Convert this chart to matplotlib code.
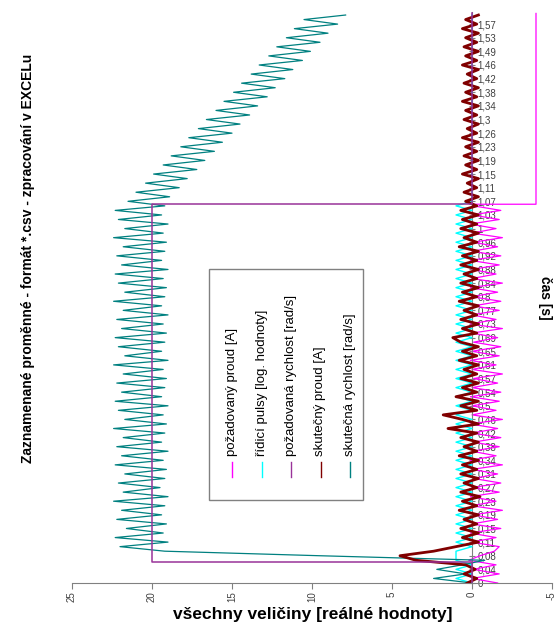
import numpy as np
import matplotlib
matplotlib.use("Agg")
import matplotlib.pyplot as plt
from matplotlib.lines import Line2D
from matplotlib.patches import Rectangle

# time axis: samples every third of a label step (labels every 1.57/41 s)
sample_dt = 1.57 / 123
time_labels = ["0", "0,04", "0,08", "0,11", "0,15", "0,19", "0,23", "0,27", "0,31", "0,34",
               "0,38", "0,42", "0,46", "0,5", "0,54", "0,57", "0,61", "0,65", "0,69", "0,73",
               "0,77", "0,8", "0,84", "0,88", "0,92", "0,96", "1", "1,03", "1,07", "1,11",
               "1,15", "1,19", "1,23", "1,26", "1,3", "1,34", "1,38", "1,42", "1,46", "1,49",
               "1,53", "1,57"]

# skutečná rychlost [rad/s]
speed_real = [
    0.0, 2.4, 0.4, 2.2, 0.6,
    -0.8, 9.5, 19.2,
    22.0, 19.0, 22.3, 19.3, 21.6, 19.1, 22.2, 19.4, 21.9, 19.2,
    22.4, 19.0, 21.8, 19.5, 22.1, 19.2, 21.7, 19.1, 22.3, 19.3,
    21.9, 19.0, 22.2, 19.4, 21.8, 19.2, 22.4, 19.1, 21.7, 19.3,
    22.1, 19.0, 22.3, 19.4, 21.9, 19.2, 22.2, 19.1, 21.8, 19.3,
    22.4, 19.0, 21.7, 19.4, 22.1, 19.2, 22.3, 19.1, 21.9, 19.3,
    22.2, 19.0, 21.8, 19.4, 22.4, 19.2, 21.7, 19.1, 22.1, 19.3,
    22.3, 19.0, 21.9, 19.4, 22.2, 19.2, 21.8, 19.1, 22.4, 19.3,
    21.7, 19.0, 22.1, 19.4, 22.3, 19.2,
    21.5, 18.9, 21.0, 18.3, 20.4, 17.8, 19.9, 17.2, 19.3, 16.7,
    18.8, 16.1, 18.2, 15.6, 17.7, 15.0, 17.1, 14.5, 16.6, 13.9,
    16.0, 13.4, 15.5, 12.8, 14.9, 12.3, 14.4, 11.7, 13.8, 11.2,
    13.3, 10.6, 12.7, 10.1, 12.2, 9.5, 11.6, 9.0, 11.1, 8.4,
    10.5, 7.9]

# skutečný proud [A]
current_real = [
    0.3, -0.3, 0.5, -0.2, 0.4,
    3.5, 4.5, 2.4, 1.0, -0.4,
    0.6, -0.4, 0.7, -0.3, 0.5, -0.4, 0.8, -0.3, 0.6, -0.5,
    0.7, -0.3, 0.5, -0.4, 0.7, -0.3, 0.6, -0.4, 0.8, -0.3,
    0.5, -0.4, 0.7, -0.3, 1.5, -0.4, 0.6, 1.8, -0.3, 0.7,
    -0.4, 1.0, -0.3, 0.6, -0.4, 0.7, -0.3, 0.5, -0.4, 0.8,
    -0.3, 0.6, -0.4, 0.7, 1.2, -0.3, 0.6, -0.4, 0.7, -0.3,
    0.5, -0.4, 0.8, -0.3, 0.6, -0.4, 0.7, -0.3, 0.5, -0.4,
    0.7, -0.3, 0.6, -0.4, 0.8, -0.3, 0.5, -0.4, 0.7, -0.3,
    0.6, -0.4, 0.7, -0.3,
    0.4, -0.4, 0.5, -0.3, 0.3, -0.4, 0.6, -0.3, 0.4, -0.4,
    0.5, -0.3, 0.4, -0.4, 0.6, -0.3, 0.3, -0.4, 0.5, -0.3,
    0.4, -0.4, 0.6, -0.3, 0.4, -0.4, 0.5, -0.3, 0.3, -0.4,
    0.6, -0.3, 0.4, -0.4, 0.5, -0.3, 0.4, -0.4, 0.6, -0.3,
    0.4, -0.4]

# řídicí pulsy [log. hodnoty]
pulses = [
    0, 1, 0, 1, 0,
    1, 1, 1,
    0, 1, 0, 1, 0, 1, 0, 1, 0, 1,
    0, 1, 0, 1, 0, 1, 0, 1, 0, 1,
    0, 1, 0, 1, 0, 1, 0, 1, 0, 1,
    0, 1, 0, 1, 0, 1, 0, 1, 0, 1,
    0, 1, 0, 1, 0, 1, 0, 1, 0, 1,
    0, 1, 0, 1, 0, 1, 0, 1, 0, 1,
    0, 1, 0, 1, 0, 1, 0, 1, 0, 1,
    0, 1, 0, 1, 0, 1,
    0, 0, 0, 0, 0, 0, 0, 0, 0, 0,
    0, 0, 0, 0, 0, 0, 0, 0, 0, 0,
    0, 0, 0, 0, 0, 0, 0, 0, 0, 0,
    0, 0, 0, 0, 0, 0, 0, 0, 0, 0,
    0, 0]

# požadovaný proud [A] - sampled part, then a step to -4 at 1.064 s
current_req = [
    -1.6, 0.0, -1.7, -0.1, -1.5,
    0.2, -0.5, -1.4,
    -1.7, 0.0, -1.5, 0.1, -1.8, 0.0, -1.6, -0.1, -1.9, 0.0,
    -1.5, 0.1, -1.7, 0.0, -1.8, -0.1, -1.6, 0.0, -1.9, 0.1,
    -1.5, 0.0, -1.7, -0.1, -1.8, 0.0, -1.6, 0.1, -1.9, 0.0,
    -1.5, 0.0, -1.7, 0.1, -1.8, 0.0, -1.6, -0.1, -1.9, 0.0,
    -1.5, 0.1, -1.7, 0.0, -1.8, -0.1, -1.6, 0.0, -1.9, 0.1,
    -1.5, 0.0, -1.7, -0.1, -1.8, 0.0, -1.6, 0.1, -1.9, 0.0,
    -1.5, 0.0, -1.7, 0.1, -1.8, 0.0, -1.6, -0.1, -1.9, 0.0,
    -1.5, 0.1, -1.7, 0.0, -1.8, -0.1]
current_req_tail_t = [1.064, 1.064, 1.6]
current_req_tail = [0.0, -4.0, -4.0]

# požadovaná rychlost [rad/s]
speed_req_t = [0, 0.059, 0.059, 1.064, 1.064, 1.6]
speed_req = [0, 0, 20, 20, 0, 0]

legend_labels = ["požadovaný proud [A]", "řídicí pulsy [log. hodnoty]",
                 "požadovaná rychlost [rad/s]", "skutečný proud [A]",
                 "skutečná rychlost [rad/s]"]
colors = ["#FF00FF", "#00FFFF", "#993399", "#800000", "#008080"]

t = np.arange(len(speed_real)) * sample_dt
t_req = np.concatenate([t[:len(current_req)], current_req_tail_t])
i_req = np.concatenate([current_req, current_req_tail])

W, H = 558, 625
fig = plt.figure(figsize=(W / 100, H / 100), dpi=100)
ax = fig.add_axes([72 / W, 42 / H, 480 / W, 571 / H])

ax.plot(i_req, t_req, color=colors[0], lw=0.9, zorder=2)
ax.plot(pulses, t, color=colors[1], lw=1.0, zorder=3)
ax.plot(speed_real, t, color=colors[4], lw=0.9, zorder=4)
ax.plot(current_real, t, color=colors[3], lw=2.0, zorder=5)
ax.plot(speed_req, speed_req_t, color=colors[2], lw=1.1, zorder=6)

ax.set_xlim(25, -5)
ax.set_ylim(0, 1.604)
ax.set_xticks([25, 20, 15, 10, 5, 0, -5])
ax.set_xticklabels(["25", "20", "15", "10", "5", "0", "-5"], rotation=90)
ax.set_yticks([i * 1.57 / 41 for i in range(len(time_labels))])
ax.set_yticklabels(time_labels)

for s in ["top", "left"]:
    ax.spines[s].set_visible(False)
ax.spines["right"].set_position(("data", 0))
ax.spines["right"].set_color("#808080")
ax.spines["bottom"].set_color("#808080")
ax.yaxis.tick_right()
ax.tick_params(axis="y", direction="inout", length=4, color="#808080",
               labelsize=7, labelcolor="#404040", pad=2)
ax.tick_params(axis="x", direction="out", length=4, color="#808080",
               labelsize=7, labelcolor="#404040", pad=2)
for lab in ax.get_xticklabels() + ax.get_yticklabels():
    lab.set_family(["Liberation Sans", "DejaVu Sans"])

sans = ["Liberation Sans", "DejaVu Sans"]
fig.text(28 / W, 1 - 258 / H, "Zaznamenané proměnné - formát *.csv - zpracování v EXCELu",
         rotation=90, ha="center", va="center", fontsize=10, fontweight="bold", family=sans)
fig.text(313 / W, 1 - 615 / H, "všechny veličiny [reálné hodnoty]",
         ha="center", va="center", fontsize=12.5, fontweight="bold", family=sans)
fig.text(545 / W, 1 - 298 / H, "čas [s]", rotation=270, ha="center", va="center",
         fontsize=10, fontweight="bold", family=sans)

# legend drawn by hand because entries are rotated
fig.add_artist(Rectangle((209 / W, 1 - 500 / H), 154 / W, 231 / H, transform=fig.transFigure,
                         facecolor="white", edgecolor="#808080", lw=1, zorder=10))
for i, (lab, c) in enumerate(zip(legend_labels, colors)):
    xc = (232 + i * 29.5) / W
    fig.text(xc, 1 - 456 / H, lab, rotation=90, ha="center", va="bottom",
             fontsize=9.5, family=sans, zorder=11)
    fig.add_artist(Line2D([xc, xc], [1 - 462 / H, 1 - 477 / H], color=c, lw=1,
                          transform=fig.transFigure, zorder=11))

fig.savefig("out.png", dpi=100)
